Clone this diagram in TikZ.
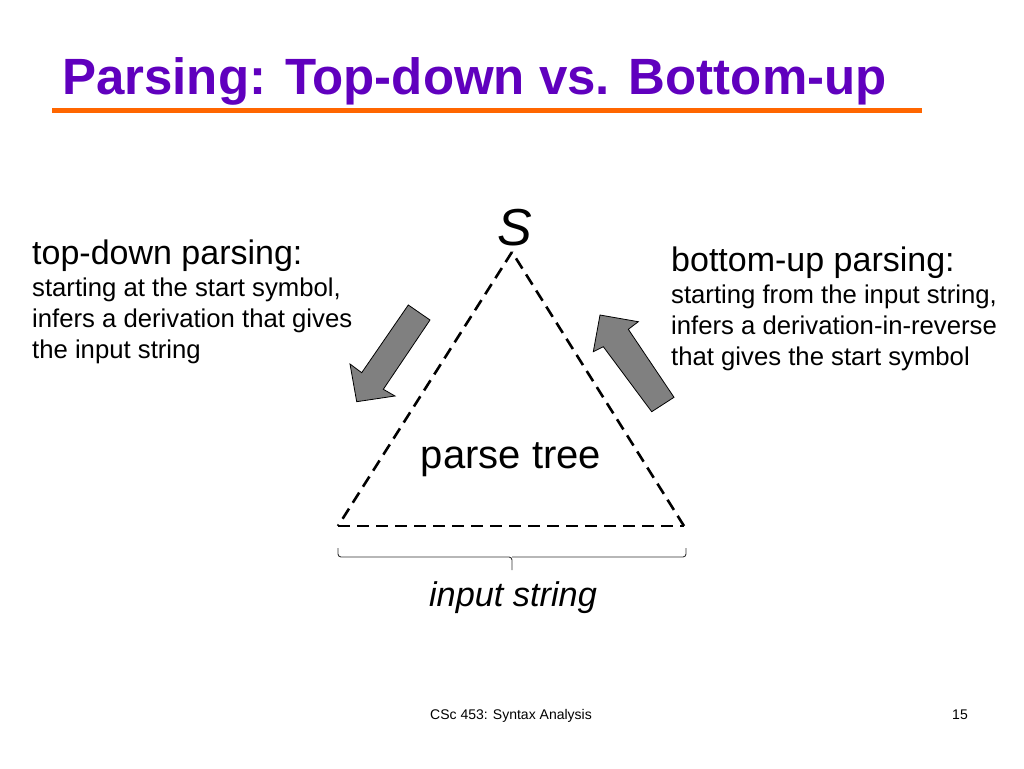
\documentclass[tikz,border=0pt]{standalone}
\usepackage{fontspec}
\setmainfont{Liberation Sans}
\definecolor{titlepurple}{RGB}{96,0,190}
\definecolor{rulerorange}{RGB}{255,102,0}
\definecolor{arrowgray}{RGB}{128,128,128}
\begin{document}
\begin{tikzpicture}[x=1pt,y=-1pt,
  txt/.style={inner sep=0pt, anchor=base west},
  headtxt/.style={txt, font=\fontsize{34}{40}\selectfont},
  bodytxt/.style={txt, font=\fontsize{25.7}{31}\selectfont},
  treeedge/.style={line width=2.6pt, dash pattern=on 12pt off 7pt},
  blockarrow/.style={draw=black, line width=0.8pt, fill=arrowgray, line join=miter},
  bracestyle/.style={line width=0.9pt, draw=black!80, rounded corners=3pt}]
\useasboundingbox (0,0) rectangle (1024,768);
\fill[white] (0,0) rectangle (1024,768);

% title
\node[txt, text=titlepurple, font=\fontsize{51}{60}\selectfont\bfseries] (title) at (62,94) {Parsing: Top-down vs. Bottom-up};
\coordinate (ruleL) at (52,110.5);
\coordinate (ruleR) at (922,110.5);
\draw[rulerorange, line width=5pt] (ruleL) -- (ruleR);

% left text
\node[headtxt] (tdhead) at (32,264) {top-down parsing:};
\node[bodytxt] (td1) at (32,296) {starting at the start symbol,};
\node[bodytxt] (td2) at (32,327) {infers a derivation that gives};
\node[bodytxt] (td3) at (32,358) {the input string};

% right text
\node[headtxt] (buhead) at (671,271) {bottom-up parsing:};
\node[bodytxt] (bu1) at (671,303) {starting from the input string,};
\node[bodytxt] (bu2) at (671,334) {infers a derivation-in-reverse};
\node[bodytxt] (bu3) at (671,365) {that gives the start symbol};

% triangle
\node[txt, anchor=base, font=\fontsize{52}{60}\selectfont\itshape] (S) at (515,245) {S};
\coordinate (apex) at (512,252);
\coordinate (bl) at (338,526);
\coordinate (br) at (684,526);
\draw[treeedge] (apex) -- (bl);
\draw[treeedge] (bl) -- (br);
\draw[treeedge] (br) -- (apex);
\node[txt, anchor=base, font=\fontsize{40}{46}\selectfont] (ptree) at (511,468) {parse tree};

% brace
\coordinate (braceL) at (338,548);
\coordinate (braceR) at (686,548);
\coordinate (braceM) at (512,557);
\coordinate (braceTip) at (512,570);
\draw[bracestyle] (braceL) -- (338,557) -- (braceM) -- (braceTip);
\draw[bracestyle] (braceR) -- (686,557) -- (braceM);
\node[txt, anchor=base, font=\fontsize{34.3}{40}\selectfont\itshape] (istr) at (513,606) {input string};

% block arrows
\draw[blockarrow] (408.3,305) -- (430,320) -- (383.3,389.3) -- (395,396) -- (356.7,401.7) -- (350,364) -- (361.7,372.7) -- cycle;
\draw[blockarrow] (600,315) -- (638.3,321.7) -- (628.3,329.3) -- (674,397.3) -- (651.7,411.7) -- (603.3,346.7) -- (593.3,351.7) -- cycle;

% footer
\node[txt, anchor=base, font=\fontsize{14}{17}\selectfont] (footer) at (511,719) {CSc 453: Syntax Analysis};
\node[txt, anchor=base, font=\fontsize{14}{17}\selectfont] (pageno) at (960,719) {15};
\end{tikzpicture}
\end{document}
